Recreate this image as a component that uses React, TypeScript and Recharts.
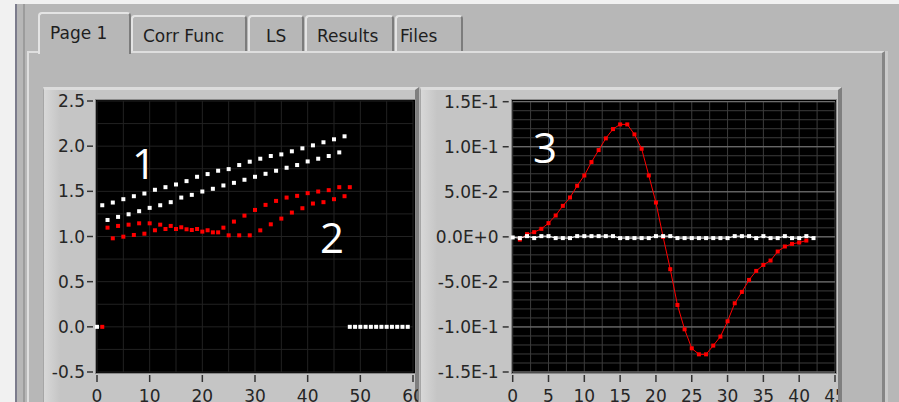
import { ScatterChart, Scatter, LineChart, Line, XAxis, YAxis, CartesianGrid } from 'recharts';

// ---- left graph: two interleaved profiles, one value per sample index
// white: x = 0..59  (odd x = upper trace, even x = lower trace, tail is zero)
const WHITE_Y = [
  0, 1.346, 1.183, 1.376, 1.217, 1.413, 1.246, 1.446, 1.28, 1.476,
  1.317, 1.517, 1.346, 1.546, 1.38, 1.576, 1.431, 1.613, 1.461, 1.661,
  1.498, 1.691, 1.528, 1.728, 1.565, 1.746, 1.594, 1.791, 1.628, 1.828,
  1.661, 1.861, 1.694, 1.891, 1.728, 1.909, 1.761, 1.943, 1.791, 1.976,
  1.831, 2.009, 1.861, 2.043, 1.891, 2.076, 1.931, 2.109, 0, 0,
  0, 0, 0, 0, 0, 0, 0, 0, 0, 0,
];
// red: x = 1..48
const RED_START = 1;
const RED_Y = [
  0, 1.098, 0.98, 1.117, 0.998, 1.131, 1.017, 1.146, 1.031, 1.146,
  1.069, 1.131, 1.083, 1.117, 1.083, 1.102, 1.08, 1.072, 1.083, 1.054,
  1.069, 1.046, 1.046, 1.098, 1.013, 1.165, 1.013, 1.231, 1.013, 1.294,
  1.068, 1.35, 1.135, 1.394, 1.198, 1.431, 1.265, 1.45, 1.313, 1.48,
  1.365, 1.498, 1.38, 1.513, 1.413, 1.546, 1.446, 1.546,
];
const LEFT_X_TICKS = [0, 10, 20, 30, 40, 50, 60];
const LEFT_Y_TICKS = [-0.5, 0, 0.5, 1, 1.5, 2, 2.5];

// ---- right graph: correlation function
// red: x = 1..41
const CORR_START = 1;
const CORR_RED = [
  -0.003, 0.003, 0.0052, 0.0089, 0.0152, 0.0237, 0.0344, 0.0437, 0.0567, 0.0681,
  0.083, 0.0963, 0.1093, 0.1196, 0.1248, 0.1248, 0.1137, 0.0978, 0.0681, 0.0381,
  0.0, -0.0359, -0.0756, -0.1026, -0.1237, -0.1304, -0.1304, -0.1207, -0.1107, -0.0937,
  -0.0737, -0.0611, -0.0478, -0.0378, -0.0311, -0.0263, -0.0163, -0.0107, -0.0078, -0.0063,
  -0.0041,
];
// white: x = 0..42
const CORR_WHITE = [
  -0.0007, -0.0014, 0.0008, -0.0014, 0.0008, 0.0008, -0.0014, -0.0014, -0.0014, 0.0008,
  0.0008, 0.0008, 0.0008, 0.0008, 0.0008, -0.0014, -0.0014, -0.0014, -0.0014, -0.0014,
  0.0008, 0.0008, 0.0008, -0.0014, -0.0014, -0.0014, -0.0014, -0.0014, -0.0014, -0.0014,
  -0.0014, 0.0008, 0.0008, 0.0008, -0.0014, 0.0008, -0.0014, -0.0014, 0.0008, -0.0014,
  -0.0014, 0.0008, -0.0014,
];
const RIGHT_X_TICKS = [0, 5, 10, 15, 20, 25, 30, 35, 40, 45];
const RIGHT_Y_TICKS = [-0.15, -0.1, -0.05, 0, 0.05, 0.1, 0.15];

const TABS = ['Page 1', 'Corr Func', 'LS', 'Results', 'Files'];

// grid positions (styling only)
const steps = (a: number, b: number, s: number) =>
  Array.from({ length: Math.round((b - a) / s) + 1 }, (_, i) => +(a + i * s).toFixed(4));

const FONT = '"DejaVu Sans", Verdana, sans-serif';
const PANEL = '#b7b7b7';

const whiteData = WHITE_Y.map((y, i) => ({ x: i, y }));
const redData = RED_Y.map((y, i) => ({ x: i + RED_START, y }));
const corrRows = CORR_WHITE.map((w, i) => {
  const r = CORR_RED[i - CORR_START];
  return { x: i, white: w, red: r === undefined ? null : r };
});

const square = (color: string, s: number) => (p: any) =>
  p.cx == null || p.cy == null ? (
    <g key={p.index} />
  ) : (
    <rect key={p.index} x={p.cx - s / 2} y={p.cy - s / 2} width={s} height={s} fill={color} />
  );

function YTick(props: any) {
  const { x, y, payload, fmt, gap } = props;
  return (
    <g>
      <line x1={x - 10} x2={x - 4} y1={y} y2={y} stroke="#333" strokeWidth={1.5} />
      <text x={x - gap} y={y} textAnchor="end" dominantBaseline="central" fontSize={17} fill="#262626" fontFamily={FONT}>
        {fmt(payload.value)}
      </text>
    </g>
  );
}

function XTick(props: any) {
  const { x, y, payload } = props;
  return (
    <g>
      <line x1={x} x2={x} y1={y + 3} y2={y + 10} stroke="#333" strokeWidth={1.5} />
      <text x={x} y={y + 30} textAnchor="middle" fontSize={17} fill="#262626" fontFamily={FONT}>
        {payload.value}
      </text>
    </g>
  );
}

function Frame({ left, width }: { left: number; width: number }) {
  return (
    <div
      style={{
        position: 'absolute', left, top: 87, width, height: 330, boxSizing: 'border-box',
        background: 'linear-gradient(to right, #d8d8d8 0px, #c5c5c5 16px, #c5c5c5 100%)',
        borderTop: '3px solid #dcdcdc', borderLeft: '1px solid #a6a6a6', borderRight: '4px solid #7f7f7f',
      }}
    />
  );
}

function PlotBg({ left, top, width, height }: { left: number; top: number; width: number; height: number }) {
  return (
    <div
      style={{
        position: 'absolute', left, top, width, height, boxSizing: 'border-box',
        background: '#000', border: '1px solid #8a8a8a',
      }}
    />
  );
}

function Tab({ label, left, top, width, height, textX }: any) {
  return (
    <div
      style={{
        position: 'absolute', left, top, width, height, boxSizing: 'border-box', background: PANEL,
        borderTop: '2px solid #e4e4e4', borderLeft: '2px solid #e4e4e4', borderRight: '2px solid #7c7c7c',
        borderTopLeftRadius: 4, borderTopRightRadius: 4,
      }}
    >
      <span style={{ position: 'absolute', left: textX - left - 2, top: 9, fontSize: 17, lineHeight: '20px', color: '#1e1e1e', whiteSpace: 'nowrap' }}>
        {label}
      </span>
    </div>
  );
}

export default function App() {
  const tabGeom = [
    { left: 38, top: 12, width: 93, height: 42, textX: 50 },
    { left: 131, top: 15, width: 116, height: 36, textX: 143 },
    { left: 248, top: 15, width: 56, height: 36, textX: 266 },
    { left: 305, top: 15, width: 89, height: 36, textX: 317 },
    { left: 395, top: 15, width: 68, height: 36, textX: 400 },
  ];
  return (
    <div style={{ position: 'fixed', left: 0, top: 0, width: 899, height: 402, overflow: 'hidden', background: PANEL, fontFamily: FONT }}>
      {/* window edges */}
      <div style={{ position: 'absolute', left: 0, top: 0, width: 15, height: 402, background: '#f1f1f1' }} />
      <div style={{ position: 'absolute', left: 0, top: 0, width: 899, height: 4, background: '#f1f1f1' }} />
      <div style={{ position: 'absolute', left: 15, top: 4, width: 2, height: 398, background: '#7c7c8c' }} />
      <div style={{ position: 'absolute', left: 23, top: 4, width: 2, height: 398, background: '#9c9c9c' }} />

      {/* tab control body */}
      <div
        style={{
          position: 'absolute', left: 27, top: 51, width: 858, height: 360, boxSizing: 'border-box', background: PANEL,
          borderTop: '2px solid #dedede', borderLeft: '2px solid #dedede', borderRight: '3px solid #858585',
        }}
      />
      <div style={{ position: 'absolute', left: 885, top: 51, width: 3, height: 360, background: '#cacaca' }} />
      {TABS.map((t, i) => (
        <Tab key={t} label={t} {...tabGeom[i]} />
      ))}

      {/* graph 1 */}
      <Frame left={43} width={376} />
      <PlotBg left={95} top={99} width={321} height={275} />
      <div style={{ position: 'absolute', left: 43, top: 87, width: 375, height: 330, overflow: 'hidden' }}>
        <ScatterChart width={375} height={330} margin={{ top: 14, right: 5, bottom: 15, left: 4 }}>
          <CartesianGrid stroke="#222" horizontalValues={steps(-0.5, 2.5, 0.25)} verticalValues={steps(0, 60, 5)} />
          <XAxis
            type="number" dataKey="x" domain={[0, 60]} ticks={LEFT_X_TICKS} interval={0} height={30}
            axisLine={false} tickLine={false} tickSize={0} tickMargin={0} tick={(p: any) => <XTick {...p} />}
          />
          <YAxis
            type="number" dataKey="y" domain={[-0.5, 2.5]} ticks={LEFT_Y_TICKS} interval={0} width={50}
            axisLine={false} tickLine={false} tickSize={0} tickMargin={0}
            tick={(p: any) => <YTick {...p} gap={12} fmt={(v: number) => v.toFixed(1)} />}
          />
          <Scatter data={redData} fill="#ff0000" shape={square('#ff0000', 4)} isAnimationActive={false} />
          <Scatter data={whiteData} fill="#ffffff" shape={square('#ffffff', 4)} isAnimationActive={false} />
        </ScatterChart>
      </div>

      {/* graph 2 */}
      <Frame left={420} width={422} />
      <PlotBg left={511} top={99} width={326} height={275} />
      <div style={{ position: 'absolute', left: 420, top: 87, width: 418, height: 330, overflow: 'hidden' }}>
        <LineChart width={422} height={330} data={corrRows} margin={{ top: 14.7, right: 7, bottom: 15, left: 2.7 }}>
          <CartesianGrid stroke="#3c3c3c" horizontalValues={steps(-0.15, 0.15, 0.01)} verticalValues={steps(0, 45, 2.5)} />
          <CartesianGrid stroke="#7a7a7a" vertical={false} horizontalValues={RIGHT_Y_TICKS} />
          <XAxis
            type="number" dataKey="x" domain={[0, 45]} ticks={RIGHT_X_TICKS} interval={0} height={30}
            axisLine={false} tickLine={false} tickSize={0} tickMargin={0} tick={(p: any) => <XTick {...p} />}
          />
          <YAxis
            type="number" domain={[-0.15, 0.15]} ticks={RIGHT_Y_TICKS} interval={0} width={90}
            axisLine={false} tickLine={false} tickSize={0} tickMargin={0}
            tick={(p: any) => <YTick {...p} gap={14} fmt={(v: number) => v.toExponential(1).toUpperCase()} />}
          />
          <Line dataKey="red" type="linear" stroke="#ff0000" strokeWidth={1} dot={square('#ff0000', 4)} isAnimationActive={false} />
          <Line dataKey="white" type="linear" stroke="#ffffff" strokeWidth={1} dot={square('#ffffff', 4)} isAnimationActive={false} />
        </LineChart>
      </div>

      {/* annotations */}
      <svg width={899} height={402} style={{ position: 'absolute', left: 0, top: 0, pointerEvents: 'none' }}>
        <g fill="#ffffff" fontFamily='"Open Sans", "Noto Sans", sans-serif' fontSize={42} textAnchor="middle">
          <text x={144} y={179}>1</text>
          <text x={332} y={253}>2</text>
          <text x={545} y={163}>3</text>
        </g>
      </svg>
    </div>
  );
}
